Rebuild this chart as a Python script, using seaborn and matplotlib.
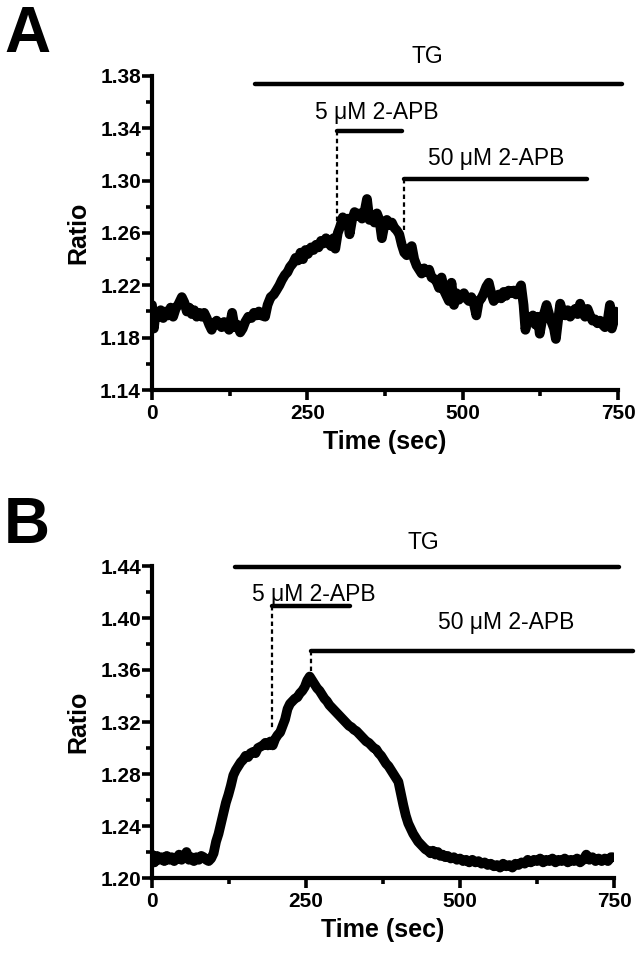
import numpy as np
import pandas as pd
import matplotlib
matplotlib.use('Agg')
import matplotlib.pyplot as plt
import seaborn as sns

# ---- Panel A trace (time in sec, fluorescence ratio) ----
time_a = [0, 3, 6, 10, 14, 18, 22, 26, 30, 34, 38, 43, 48, 52, 56, 60, 64, 68, 72, 76,
          80, 84, 88, 92, 96, 100, 104, 108, 112, 116, 120, 124, 129, 133, 137, 142, 146, 150, 155, 160,
          164, 168, 172, 176, 182, 186, 191, 196, 200, 205, 209, 214, 218, 222, 227, 231, 235, 239, 243, 247,
          251, 256, 260, 264, 268, 272, 276, 280, 284, 288, 292, 295, 299, 303, 307, 311, 315, 318, 322, 326,
          330, 334, 338, 342, 346, 350, 354, 358, 362, 366, 370, 374, 378, 382, 386, 390, 394, 398, 402, 406,
          410, 414, 418, 422, 426, 430, 434, 438, 442, 446, 450, 454, 458, 462, 466, 470, 474, 478, 482, 486,
          490, 494, 498, 502, 506, 510, 514, 518, 522, 526, 530, 534, 538, 542, 546, 550, 554, 558, 562, 566,
          570, 574, 578, 582, 586, 590, 594, 598, 601, 605, 609, 613, 617, 621, 624, 628, 632, 635, 639, 643,
          647, 650, 654, 657, 661, 665, 669, 673, 677, 681, 685, 689, 693, 697, 701, 705, 709, 713, 717, 721,
          725, 729, 733, 737, 740, 743, 746, 749]
ratio_a = [1.205, 1.187, 1.200, 1.196, 1.201, 1.195, 1.200, 1.197, 1.203, 1.196, 1.202, 1.206, 1.211, 1.207, 1.200, 1.203, 1.198, 1.201, 1.196, 1.199,
           1.196, 1.199, 1.195, 1.190, 1.186, 1.191, 1.193, 1.190, 1.188, 1.192, 1.189, 1.186, 1.199, 1.188, 1.190, 1.184, 1.187, 1.192, 1.196, 1.195,
           1.199, 1.197, 1.200, 1.197, 1.196, 1.205, 1.211, 1.213, 1.216, 1.220, 1.224, 1.228, 1.230, 1.234, 1.237, 1.241, 1.239, 1.245, 1.240, 1.247,
           1.244, 1.249, 1.247, 1.251, 1.249, 1.254, 1.252, 1.256, 1.253, 1.250, 1.256, 1.248, 1.260, 1.265, 1.272, 1.267, 1.271, 1.259, 1.270, 1.276,
           1.273, 1.275, 1.271, 1.276, 1.286, 1.270, 1.272, 1.268, 1.275, 1.270, 1.256, 1.266, 1.270, 1.266, 1.268, 1.264, 1.262, 1.259, 1.251, 1.245,
           1.243, 1.248, 1.250, 1.240, 1.235, 1.232, 1.229, 1.233, 1.230, 1.232, 1.226, 1.225, 1.223, 1.218, 1.226, 1.216, 1.212, 1.208, 1.222, 1.205,
           1.214, 1.209, 1.212, 1.214, 1.210, 1.208, 1.211, 1.206, 1.197, 1.208, 1.210, 1.214, 1.219, 1.222, 1.214, 1.208, 1.211, 1.213, 1.210, 1.215,
           1.212, 1.216, 1.214, 1.216, 1.213, 1.216, 1.220, 1.205, 1.186, 1.196, 1.193, 1.197, 1.190, 1.196, 1.183, 1.194, 1.200, 1.205, 1.198, 1.192,
           1.187, 1.179, 1.195, 1.206, 1.199, 1.197, 1.201, 1.196, 1.199, 1.202, 1.198, 1.206, 1.199, 1.196, 1.202, 1.197, 1.193, 1.194, 1.191, 1.193,
           1.190, 1.188, 1.192, 1.205, 1.187, 1.192, 1.200, 1.197]

# ---- Panel B trace ----
time_b = [0, 4, 8, 12, 16, 20, 24, 28, 32, 36, 40, 44, 48, 52, 56, 60, 64, 68, 72, 76,
          80, 84, 88, 92, 96, 100, 104, 108, 112, 116, 120, 124, 128, 132, 136, 140, 144, 148, 152, 156,
          160, 164, 168, 172, 176, 180, 184, 188, 192, 196, 200, 204, 208, 212, 216, 220, 224, 228, 232, 236,
          240, 244, 248, 252, 256, 260, 264, 268, 272, 276, 280, 284, 288, 292, 296, 300, 304, 308, 312, 316,
          320, 324, 328, 332, 336, 340, 344, 348, 352, 356, 360, 364, 368, 372, 376, 380, 384, 388, 392, 396,
          400, 404, 408, 412, 416, 420, 424, 428, 432, 436, 440, 444, 448, 452, 456, 460, 464, 468, 472, 476,
          480, 485, 490, 495, 500, 505, 510, 515, 520, 525, 530, 535, 540, 545, 550, 555, 560, 565, 570, 575,
          580, 585, 590, 595, 600, 605, 610, 615, 620, 625, 630, 635, 640, 645, 650, 655, 660, 665, 670, 675,
          680, 685, 690, 695, 700, 705, 710, 715, 720, 725, 730, 735, 740, 745, 748]
ratio_b = [1.218, 1.212, 1.217, 1.214, 1.216, 1.213, 1.217, 1.214, 1.216, 1.213, 1.215, 1.218, 1.214, 1.216, 1.220, 1.214, 1.216, 1.213, 1.216, 1.214,
           1.217, 1.216, 1.214, 1.213, 1.215, 1.219, 1.228, 1.234, 1.242, 1.250, 1.258, 1.264, 1.271, 1.279, 1.283, 1.286, 1.289, 1.291, 1.294, 1.293,
           1.296, 1.297, 1.296, 1.300, 1.301, 1.302, 1.304, 1.302, 1.305, 1.302, 1.307, 1.310, 1.312, 1.317, 1.322, 1.330, 1.334, 1.336, 1.338, 1.339,
           1.342, 1.344, 1.347, 1.352, 1.355, 1.352, 1.349, 1.346, 1.344, 1.341, 1.338, 1.336, 1.333, 1.331, 1.329, 1.327, 1.325, 1.323, 1.321, 1.319,
           1.317, 1.316, 1.314, 1.313, 1.311, 1.309, 1.307, 1.305, 1.304, 1.302, 1.300, 1.299, 1.296, 1.294, 1.291, 1.288, 1.286, 1.283, 1.280, 1.277,
           1.274, 1.265, 1.256, 1.248, 1.242, 1.238, 1.234, 1.231, 1.228, 1.226, 1.224, 1.222, 1.221, 1.219, 1.221, 1.218, 1.220, 1.217, 1.218, 1.216,
           1.217, 1.215, 1.216, 1.214, 1.215, 1.213, 1.214, 1.212, 1.214, 1.212, 1.213, 1.211, 1.212, 1.210, 1.211, 1.209, 1.210, 1.208, 1.211, 1.209,
           1.210, 1.208, 1.211, 1.210, 1.212, 1.211, 1.214, 1.212, 1.214, 1.213, 1.215, 1.212, 1.214, 1.213, 1.215, 1.212, 1.214, 1.213, 1.215, 1.212,
           1.214, 1.213, 1.215, 1.212, 1.214, 1.218, 1.214, 1.216, 1.213, 1.215, 1.213, 1.215, 1.213, 1.216, 1.216]

# ---- treatment bars: (label, start, end, level, label_x, label_y, dashed_to) ----
bars_a = [
    ('TG', 166, 757, 1.374, 443, 1.386, None),
    ('5 \u03bcM 2-APB', 298, 402, 1.338, 362, 1.343, 1.262),
    ('50 \u03bcM 2-APB', 405, 700, 1.301, 554, 1.308, 1.262),
]
bars_b = [
    ('TG', 135, 758, 1.439, 441, 1.449, None),
    ('5 \u03bcM 2-APB', 194, 321, 1.409, 262, 1.409, 1.314),
    ('50 \u03bcM 2-APB', 258, 781, 1.375, 575, 1.388, 1.355),
]

xticks = [0, 250, 500, 750]
xminor = [125, 375, 625]
yticks_a = [1.14, 1.18, 1.22, 1.26, 1.30, 1.34, 1.38]
yticks_b = [1.20, 1.24, 1.28, 1.32, 1.36, 1.40, 1.44]


def draw_panel(ax, t, r, bars, yticks):
    df = pd.DataFrame({'time': t, 'ratio': r})
    sns.lineplot(data=df, x='time', y='ratio', color='black', lw=7, ax=ax,
                 estimator=None, sort=True)
    ax.set_xlim(0, 750)
    ax.set_ylim(yticks[0], yticks[-1])
    ax.set_xticks(xticks)
    ax.set_xticks(xminor, minor=True)
    ax.set_yticks(yticks)
    ax.set_yticks([v + 0.02 for v in yticks[:-1]], minor=True)
    ax.set_xticklabels([str(v) for v in xticks], fontweight='bold')
    ax.set_yticklabels(['%.2f' % v for v in yticks], fontweight='bold')
    ax.tick_params(which='major', length=7, width=2.6, labelsize=15)
    ax.tick_params(which='minor', length=4, width=2.6)
    ax.tick_params(axis='x', pad=3)
    ax.tick_params(axis='y', pad=1)
    sns.despine(ax=ax)
    for s in ['left', 'bottom']:
        ax.spines[s].set_linewidth(3)
    ax.set_xlabel('Time (sec)', fontsize=18, fontweight='bold', labelpad=5)
    ax.set_ylabel('Ratio', fontsize=18, fontweight='bold', labelpad=7)

    for label, t0, t1, lev, lx, ly, dash_to in bars:
        ax.plot([t0, t1], [lev, lev], color='black', lw=3.2,
                solid_capstyle='round', clip_on=False)
        ax.text(lx, ly, label, fontsize=16.5, ha='center', va='bottom', clip_on=False)
        if dash_to is not None:
            ax.plot([t0, t0], [lev, dash_to], color='black', lw=1.6,
                    ls=(0, (2, 1.5)), clip_on=False)


sns.set_style('ticks')
plt.rcParams['font.family'] = ['Liberation Sans', 'DejaVu Sans']
for key in ['text.color', 'axes.labelcolor', 'xtick.color', 'ytick.color', 'axes.edgecolor']:
    plt.rcParams[key] = 'black'

fig = plt.figure(figsize=(6.42, 9.59), dpi=100)
ax_a = fig.add_axes([152 / 642, 1 - 390 / 959, 466 / 642, 314 / 959])
ax_b = fig.add_axes([152 / 642, 1 - 878 / 959, 462 / 642, 312 / 959])

draw_panel(ax_a, time_a, ratio_a, bars_a, yticks_a)
draw_panel(ax_b, time_b, ratio_b, bars_b, yticks_b)

fig.text(4 / 642, 1 - 52 / 959, 'A', fontsize=46, fontweight='bold', va='baseline')
fig.text(4 / 642, 1 - 543 / 959, 'B', fontsize=46, fontweight='bold', va='baseline')

fig.savefig('out.png', dpi=100, facecolor='white')
